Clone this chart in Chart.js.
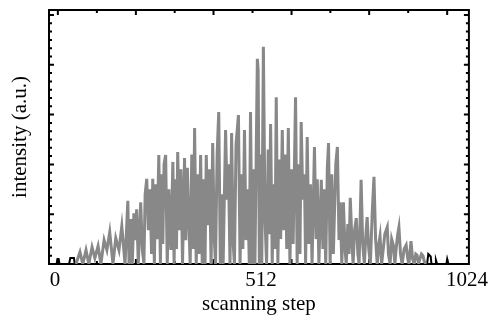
<!DOCTYPE html>
<html>
<head>
<meta charset="utf-8">
<script src="https://cdn.jsdelivr.net/npm/chart.js@4.4.1/dist/chart.umd.min.js"></script>
<style>
    html, body { margin: 0; padding: 0; background: #fff; }
    #chart { display: block; }
</style>
</head>
<body>
<canvas id="chart" width="492" height="320"></canvas>
<script>
// values (x = scanning step, y = intensity in a.u.)
const grayX = [52, 62, 69, 77, 84, 92, 99, 107, 114, 122,
    129, 136, 144, 151, 159, 166, 174, 181, 184, 188,
    192, 196, 199, 203, 207, 213, 217, 221, 224, 228,
    232, 236, 240, 243, 247, 250, 254, 258, 262, 265,
    268, 271, 275, 279, 283, 288, 293, 296, 299, 302,
    305, 309, 313, 317, 322, 325, 329, 332, 336, 340,
    344, 347, 351, 355, 358, 362, 366, 370, 373, 376,
    380, 384, 388, 392, 396, 399, 403, 407, 411, 414,
    418, 424, 428, 431, 435, 439, 443, 446, 450, 456,
    460, 464, 467, 471, 475, 479, 483, 486, 490, 493,
    497, 503, 505, 508, 511, 514, 518, 522, 526, 530,
    533, 536, 540, 543, 547, 550, 554, 558, 561, 565,
    569, 573, 576, 580, 584, 588, 592, 598, 602, 605,
    609, 612, 616, 620, 623, 627, 631, 635, 639, 645,
    649, 652, 656, 662, 666, 669, 673, 677, 680, 684,
    688, 692, 698, 702, 706, 709, 713, 717, 721, 724,
    728, 731, 734, 738, 741, 745, 749, 753, 756, 761,
    765, 769, 773, 776, 780, 784, 789, 793, 797, 801,
    805, 808, 812, 816, 820, 826, 829, 833, 837, 841,
    845, 848, 852, 855, 859, 863, 868, 873, 877, 880,
    885, 889, 893, 897, 900, 904, 907, 911, 915, 918,
    922];
const grayY = [0, 0.24, 0, 0.28, 0, 0.34, 0.12, 0.36, 0, 0.48,
    0.28, 0.64, 0, 0.52, 0.28, 0.76, 0, 1.27, 0, 0.9,
    0, 1.02, 0.48, 1.1, 0, 1.24, 0.3, 0, 1.4, 1.71,
    0.68, 1.5, 0.2, 1.71, 0, 1.6, 0.5, 2.19, 0, 1.8,
    0.4, 2.0, 2.19, 0, 1.5, 0.28, 2.05, 0, 1.7, 0.3,
    2.25, 0.68, 1.9, 0, 2.13, 0.48, 1.93, 1.0, 0, 2.2,
    0.3, 2.73, 0, 1.8, 0.2, 2.19, 0, 1.7, 0, 2.19,
    0.78, 1.9, 0, 2.43, 0.5, 0, 2.2, 3.05, 0, 1.4,
    0, 2.69, 1.29, 2.0, 0, 2.63, 0.4, 0, 2.4, 2.99,
    0, 1.8, 0.3, 2.69, 0.48, 1.5, 0, 3.05, 0, 1.9,
    0, 4.12, 3.9, 0, 2.2, 0, 4.36, 0.9, 0, 2.3,
    0.6, 2.81, 0, 1.6, 0.3, 3.35, 0, 2.1, 0.5, 2.69,
    0.68, 2.2, 0.3, 2.73, 0, 1.9, 0.4, 3.35, 0, 2.0,
    0.2, 2.85, 1.29, 1.8, 0, 2.55, 0.4, 1.6, 0, 2.35,
    0.5, 1.7, 0, 1.69, 0.3, 1.5, 0, 1.93, 2.43, 0,
    1.8, 0.2, 2.0, 2.35, 0.48, 1.24, 0, 1.24, 0.3, 0,
    0.8, 0.2, 1.33, 0.5, 0, 0.7, 0.92, 0.2, 0, 1.69,
    0.4, 0, 0.6, 0.94, 0.3, 0, 1.1, 1.75, 0.5, 0,
    0.4, 0.56, 0, 0.3, 0.6, 0.74, 0.2, 0, 0.5, 0.38,
    0, 0.3, 0.6, 0.74, 0.2, 0, 0.3, 0.38, 0.1, 0,
    0.46, 0.1, 0, 0.2, 0.18, 0, 0.1, 0.2, 0.16, 0.05,
    0];
const blackX = [-15, 4, 6, 9, 11, 35, 38, 47, 49, 925, 928, 934, 936, 945, 947, 950, 973, 975, 978, 1029];
const blackY = [0, 0, 0.1, 0.1, 0, 0, 0.12, 0.12, 0, 0, 0.2, 0.15, 0, 0, 0.08, 0, 0, 0.1, 0, 0];
const xLabels = [0, 512, 1024];
const xMajor = [7, 201, 394, 588, 781, 975];
const yMajor = [0, 1, 2, 3, 4, 5];

const FONT = 'Liberation Serif, Times New Roman, serif';

// box + inward tick marks on all four sides
const frame = {
    id: 'frame',
    beforeDatasetsDraw(chart) {
        const { ctx, chartArea: a, scales: { x, y } } = chart;
        ctx.save();
        ctx.strokeStyle = '#000';
        ctx.lineWidth = 2;
        ctx.beginPath();
        const tick = (x1, y1, x2, y2) => { ctx.moveTo(x1, y1); ctx.lineTo(x2, y2); };
        xMajor.forEach((v, i) => {
            const px = x.getPixelForValue(v);
            tick(px, a.top, px, a.top + 5);
            tick(px, a.bottom, px, a.bottom - 5);
            if (i < xMajor.length - 1) {
                const mx = x.getPixelForValue((v + xMajor[i + 1]) / 2);
                tick(mx, a.top, mx, a.top + 3);
                tick(mx, a.bottom, mx, a.bottom - 3);
            }
        });
        yMajor.forEach((v, i) => {
            const py = y.getPixelForValue(v);
            tick(a.left, py, a.left + 5, py);
            tick(a.right, py, a.right - 5, py);
            if (i < yMajor.length - 1) {
                for (let k = 1; k < 6; k++) {
                    const my = y.getPixelForValue(v + k / 6);
                    tick(a.left, my, a.left + 3, my);
                    tick(a.right, my, a.right - 3, my);
                }
            }
        });
        ctx.stroke();
        ctx.strokeRect(a.left, a.top, a.right - a.left, a.bottom - a.top);
        ctx.restore();
    }
};

new Chart(document.getElementById('chart'), {
    type: 'scatter',
    data: {
        datasets: [
            {
                data: blackX.map((v, i) => ({ x: v, y: blackY[i] })),
                showLine: true,
                borderColor: '#000',
                borderWidth: 2,
                pointRadius: 0,
                order: 2
            },
            {
                data: grayX.map((v, i) => ({ x: v, y: grayY[i] })),
                showLine: true,
                borderColor: 'rgb(136,136,136)',
                borderWidth: 3,
                pointRadius: 0,
                order: 1
            }
        ]
    },
    options: {
        responsive: false,
        animation: false,
        devicePixelRatio: 1,
        layout: { padding: { left: 0, right: 22, top: 10, bottom: 0 } },
        plugins: { legend: { display: false }, tooltip: { enabled: false } },
        scales: {
            x: {
                type: 'linear',
                min: -15,
                max: 1029,
                afterBuildTicks: s => { s.ticks = xLabels.map(v => ({ value: v })); },
                afterFit: s => { s.height = 56; },
                grid: { display: false, drawTicks: false },
                border: { display: false },
                ticks: { color: '#000', padding: 4, maxRotation: 0, callback: v => String(v), font: { family: FONT, size: 21 } },
                title: { display: true, text: 'scanning step', color: '#000', padding: { top: 0, bottom: 3 }, font: { family: FONT, size: 21 } }
            },
            y: {
                min: 0,
                max: 5.1,
                afterFit: s => { s.width = 49; },
                grid: { display: false, drawTicks: false },
                border: { display: false },
                ticks: { display: false },
                title: { display: true, text: 'intensity (a.u.)', color: '#000', padding: { top: 8, bottom: 0 }, font: { family: FONT, size: 21 } }
            }
        }
    },
    plugins: [frame]
});
</script>
</body>
</html>
